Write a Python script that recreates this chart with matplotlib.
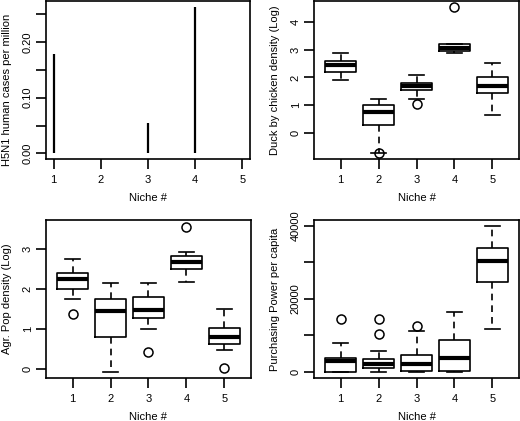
import numpy as np
import matplotlib.pyplot as plt

plt.rcParams['font.family'] = ['Liberation Sans', 'DejaVu Sans']
plt.rcParams['font.size'] = 8

niches = [1, 2, 3, 4, 5]

# panel 1: H5N1 human cases per million
h5n1 = [0.179, 0.001, 0.055, 0.263, 0.001]

# panel 2: duck by chicken density (log)
duck_whislo = [1.90, -0.72, 1.24, 2.88, 0.66]
duck_q1 = [2.20, 0.31, 1.54, 2.94, 1.45]
duck_med = [2.46, 0.76, 1.68, 3.04, 1.71]
duck_q3 = [2.58, 1.00, 1.81, 3.20, 2.00]
duck_whishi = [2.88, 1.23, 2.07, 3.20, 2.52]
duck_out = [[], [-0.72], [1.06], [4.52], []]

# panel 3: agricultural population density (log)
agr_whislo = [1.74, -0.08, 1.01, 2.17, 0.47]
agr_q1 = [2.00, 0.81, 1.28, 2.50, 0.63]
agr_med = [2.25, 1.46, 1.48, 2.68, 0.81]
agr_q3 = [2.39, 1.76, 1.80, 2.82, 1.02]
agr_whishi = [2.75, 2.14, 2.15, 2.92, 1.50]
agr_out = [[1.38], [], [0.42], [3.54], [0.03]]

# panel 4: purchasing power per capita
pp_whislo = [0, 0, 0, 0, 11850]
pp_q1 = [90, 1090, 180, 270, 24510]
pp_med = [3010, 2280, 2100, 3920, 30340]
pp_q3 = [3740, 3460, 4650, 8750, 33990]
pp_whishi = [7930, 5830, 11120, 16400, 39820]
pp_out = [[14400], [14580, 10390], [12480], [], []]


def make_stats(lo, q1, med, q3, hi, out):
    return [dict(whislo=lo[i], q1=q1[i], med=med[i], q3=q3[i], whishi=hi[i],
                 fliers=out[i]) for i in range(len(lo))]


def r_style(ax):
    for s in ax.spines.values():
        s.set_linewidth(1.2)
    ax.tick_params(direction='out', length=7, width=1.2)
    ax.tick_params(axis='x', pad=4.5)
    ax.tick_params(axis='y', pad=2.5)
    for lab in ax.get_yticklabels():
        lab.set_rotation(90)
        lab.set_va('center')
    ax.set_xlabel('Niche #', labelpad=6)


def draw_box(ax, stats, ylabel):
    ax.bxp(stats, positions=niches, widths=0.8, capwidths=0.4,
           boxprops=dict(lw=1.2, color='black'),
           whiskerprops=dict(lw=1.2, color='black', linestyle=(0, (4, 3))),
           capprops=dict(lw=1.2, color='black'),
           medianprops=dict(lw=3, color='black'),
           flierprops=dict(marker='o', markersize=6.5, markerfacecolor='none',
                           markeredgecolor='black', markeredgewidth=1.1))
    ax.set_xlim(0.3, 5.7)
    ax.set_xticks(niches)
    ax.set_xticklabels([str(n) for n in niches])
    ax.set_ylabel(ylabel, labelpad=8)


fig = plt.figure(figsize=(5.2, 4.21), dpi=100)
ax1 = fig.add_axes([0.0885, 0.622, 0.392, 0.375])
ax2 = fig.add_axes([0.604, 0.622, 0.394, 0.375])
ax3 = fig.add_axes([0.0885, 0.102, 0.394, 0.375])
ax4 = fig.add_axes([0.604, 0.102, 0.394, 0.375])

# panel 1
ax1.vlines(niches, 0, h5n1, color='black', lw=1.6)
ax1.set_xlim(0.84, 5.16)
ax1.set_ylim(-0.0105, 0.2735)
ax1.set_xticks(niches)
ax1.set_yticks([0, 0.05, 0.10, 0.15, 0.20, 0.25])
ax1.set_yticklabels(['0.00', '', '0.10', '', '0.20', ''])
ax1.set_ylabel('H5N1 human cases per million', labelpad=8, y=0.44)

# panel 2
draw_box(ax2, make_stats(duck_whislo, duck_q1, duck_med, duck_q3, duck_whishi, duck_out),
         'Duck by chicken density (Log)')
ax2.set_ylim(-0.93, 4.73)
ax2.set_yticks([0, 1, 2, 3, 4])

# panel 3
draw_box(ax3, make_stats(agr_whislo, agr_q1, agr_med, agr_q3, agr_whishi, agr_out),
         'Agr. Pop density (Log)')
ax3.set_ylim(-0.22, 3.71)
ax3.set_yticks([0, 1, 2, 3])

# panel 4
draw_box(ax4, make_stats(pp_whislo, pp_q1, pp_med, pp_q3, pp_whishi, pp_out),
         'Purchasing Power per capita')
ax4.set_ylim(-1640, 41460)
ax4.set_yticks([0, 10000, 20000, 30000, 40000])
ax4.set_yticklabels(['0', '', '20000', '', '40000'])

for ax in (ax1, ax2, ax3, ax4):
    r_style(ax)

fig.savefig('out.png', dpi=100)
